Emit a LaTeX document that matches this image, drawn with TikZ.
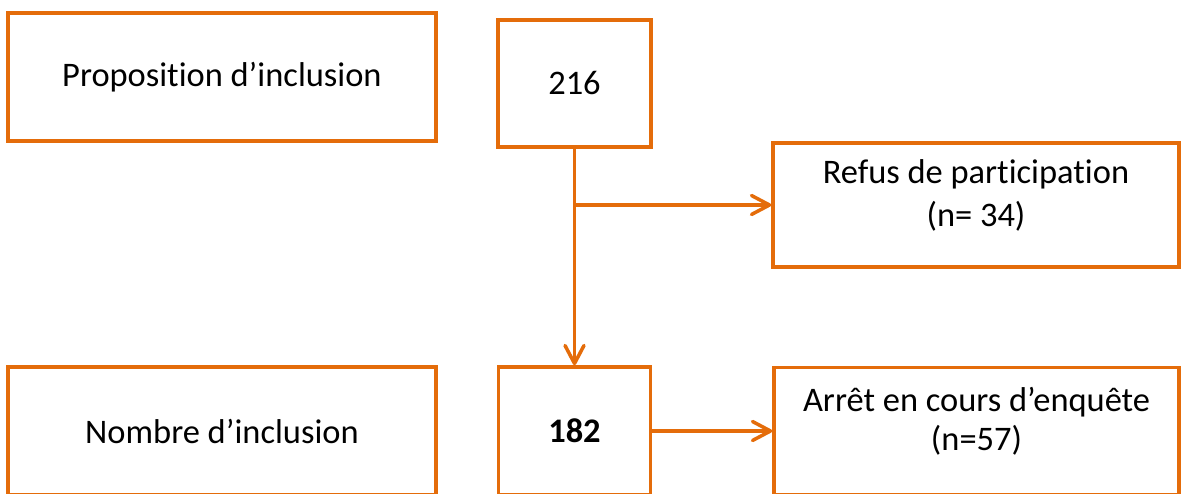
\documentclass[tikz,border=0pt]{standalone}
\usepackage{fontspec}
\setmainfont[Ligatures={NoCommon}]{Carlito}
\usepackage{xcolor}
\usepackage{tikz}
\usetikzlibrary{arrows.meta}
\definecolor{orangeb}{HTML}{E46C0A}

\begin{document}
\begin{tikzpicture}[boite/.style={draw=orangeb, line width=2pt, align=center, inner sep=0pt, font=\fontsize{19.6}{24.5}\selectfont},
		deuxlignes/.style={text depth=14pt},
		fleche/.style={draw=orangeb, line width=2pt, -{Straight Barb[length=0.36cm, width=0.38cm, round]}}]
			\useasboundingbox (0,0) rectangle (23.62,-9.88);
			% Les cases
			\node[boite, minimum width=8.56cm, minimum height=2.56cm] (prop) at (4.44,-1.54) {Proposition d’inclusion};
			\node[boite, minimum width=3.06cm, minimum height=2.54cm] (n216) at (11.49,-1.67) {216};
			\node[boite, deuxlignes, minimum width=8.12cm, minimum height=2.48cm] (refus) at (19.52,-4.10) {Refus de participation\\(n= 34)};
			\node[boite, minimum width=8.56cm, minimum height=2.56cm] (nombre) at (4.44,-8.62) {Nombre d’inclusion};
			\node[boite, minimum width=3.04cm, minimum height=2.56cm] (n182) at (11.49,-8.62) {\textbf{182}};
			\node[boite, deuxlignes, minimum width=8.10cm, minimum height=2.54cm] (arret) at (19.53,-8.62) {Arrêt en cours d’enquête\\[-0.09cm](n=57)};
			% Les fleches
			\draw[fleche] (n216) -- (n182);
			\draw[fleche] (n216.south |- refus.west) -- (refus);
			\draw[fleche] (n182) -- (arret);
		\end{tikzpicture}
\end{document}
